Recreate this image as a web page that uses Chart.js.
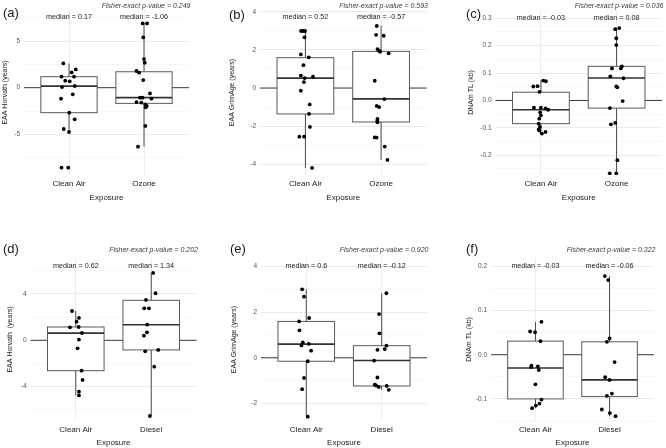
<!DOCTYPE html>
<html>
<head>
<meta charset="utf-8">
<script src="https://cdn.jsdelivr.net/npm/chart.js@4.4.1/dist/chart.umd.min.js"></script>
<style>
  html, body { margin: 0; padding: 0; background: #fff; }
  #wrap { position: relative; width: 666px; height: 448px; overflow: hidden; }
  #wrap canvas { position: absolute; }
</style>
</head>
<body>
<div id="wrap"></div>
<script>
// ---- data ----
const panelTags = ['(a)', '(b)', '(c)', '(d)', '(e)', '(f)'];
const yTitles = ['EAA Horvath (years)', 'EAA GrimAge (years)', 'DNAm TL (kb)',
                 'EAA Horvath  (years)', 'EAA GrimAge (years)', 'DNAm TL (kb)'];
const groups = [['Clean Air', 'Ozone'], ['Clean Air', 'Ozone'], ['Clean Air', 'Ozone'],
                ['Clean Air', 'Diesel'], ['Clean Air', 'Diesel'], ['Clean Air', 'Diesel']];
const pValues = ['0.249', '0.593', '0.036', '0.202', '0.920', '0.322'];
const medianText = [['0.17', '-1.06'], ['0.52', '-0.57'], ['-0.03', '0.08'],
                    ['0.62', '1.34'], ['0.6', '-0.12'], ['-0.03', '-0.06']];
const medianLabelY = [7.55, 3.7, 0.301, 6.44, 4.0, 0.2];

const yMin = [-9.36, -4.56, -0.272, -6.96, -2.76, -0.150];
const yMax = [8.33, 4.09, 0.330, 7.10, 4.36, 0.219];
const majorTicks = [[-5, 0, 5], [-4, -2, 0, 2, 4], [-0.2, -0.1, 0, 0.1, 0.2, 0.3],
                    [-4, 0, 4], [-2, 0, 2, 4], [-0.1, 0, 0.1, 0.2]];
const minorTicks = [[-7.5, -2.5, 2.5, 7.5], [-3, -1, 1, 3], [-0.25, -0.15, -0.05, 0.05, 0.15, 0.25],
                    [-6, -2, 2, 6], [-1, 1, 3], [-0.15, -0.05, 0.05, 0.15]];
const tickDecimals = [0, 0, 1, 0, 0, 1];

// box stats per group: [whisker low, q1, median, q3, whisker high]
const boxes = [
  [[-4.75, -2.68, 0.17, 1.18, 2.6], [-6.32, -1.68, -1.06, 1.71, 6.89]],
  [[-4.19, -1.36, 0.52, 1.59, 2.99], [-3.77, -1.78, -0.57, 1.92, 3.27]],
  [[-0.121, -0.0846, -0.034, 0.030, 0.0726], [-0.262, -0.028, 0.082, 0.1245, 0.264]],
  [[-4.75, -2.62, 0.62, 1.15, 2.53], [-6.53, -0.83, 1.34, 3.45, 5.81]],
  [[-2.57, -0.15, 0.6, 1.59, 2.99], [-1.4, -1.23, -0.12, 0.53, 2.82]],
  [[-0.121, -0.1, -0.03, 0.0308, 0.0744], [-0.139, -0.0947, -0.057, 0.0293, 0.178]]
];

// observations per group and their horizontal jitter (category units)
const values = [
  [[2.6, 1.96, 1.64, 1.18, 1.18, 0.75, 0.68, 0.07, 0.18, -0.71, -1.18, -2.68, -3.39, -4.43, -4.75, -8.57, -8.57],
   [6.89, 6.89, 5.39, 3.07, 2.68, 1.79, 1.61, 0.82, -0.61, -1.07, -1.07, -1.18, -1.54, -1.6, -1.79, -1.96, -2.1, -4.1, -6.32]],
  [[2.99, 2.99, 2.99, 2.66, 1.76, 1.61, 1.2, 0.65, 0.52, 0.59, 0.31, -0.14, -0.86, -1.36, -2.04, -2.55, -2.55, -4.19],
   [3.25, 2.79, 2.74, 2.04, 1.96, 1.9, 1.82, 0.38, -0.58, -0.94, -1.0, -1.62, -1.73, -1.8, -2.59, -2.6, -3.07, -3.77]],
  [[0.0726, 0.070, 0.0508, 0.052, 0.0314, -0.0266, -0.0266, -0.029, -0.0339, -0.0435, -0.0544, -0.0665, -0.0846, -0.0967, -0.106, -0.11, -0.115, -0.121],
   [0.26, 0.264, 0.227, 0.202, 0.117, 0.1245, 0.117, 0.088, 0.081, 0.0508, 0.048, -0.0024, -0.0278, -0.087, -0.082, -0.218, -0.266, -0.266]],
  [[2.53, 1.93, 1.61, 1.12, 1.15, 0.63, 0.06, -0.69, -2.62, -3.42, -4.43, -4.75],
   [5.81, 4.06, 3.48, 2.76, 2.76, 1.35, 0.69, 0.4, -0.95, -0.83, -2.27, -6.53]],
  [[2.99, 2.67, 1.74, 1.59, 1.2, 0.67, 0.54, 0.61, 0.31, -0.15, -0.88, -1.37, -2.57],
   [2.82, 1.91, 1.07, 0.53, 0.35, 0.38, -0.12, -0.86, -1.17, -1.21, -1.27, -1.23, -1.4]],
  [[0.0744, 0.0526, 0.051, 0.0308, -0.0248, -0.028, -0.0263, -0.0346, -0.067, -0.1015, -0.1105, -0.115, -0.121],
   [0.178, 0.169, 0.0368, 0.0293, -0.0165, -0.051, -0.057, -0.093, -0.088, -0.124, -0.132, -0.139]]
];
const jitter = [
  [[-0.076, 0.09, 0.036, -0.1, 0.067, -0.05, 0.01, -0.093, 0.076, 0.05, -0.107, 0.004, 0.076, -0.07, 0, -0.1, -0.01],
   [-0.018, 0.04, -0.01, 0, 0.01, -0.1, -0.065, -0.01, 0.08, -0.053, -0.02, 0.1, -0.1, -0.036, 0.018, 0.036, 0.022, 0.018, -0.08]],
  [[-0.057, -0.03, -0.005, -0.013, -0.06, 0.044, -0.026, -0.06, -0.01, 0.1, -0.02, -0.06, 0.057, 0.048, 0.06, -0.08, -0.017, 0.088],
   [-0.057, -0.066, 0.035, -0.048, -0.03, -0.013, 0.1, -0.084, 0.044, -0.057, -0.026, -0.048, -0.05, -0.048, -0.084, -0.06, 0.048, 0.084]],
  [[0.03, 0.066, -0.1, -0.044, -0.018, -0.092, 0, 0.061, 0.096, -0.009, 0, -0.022, -0.03, -0.013, -0.03, -0.02, 0.061, 0.013],
   [-0.018, 0.035, -0.004, -0.004, -0.061, 0.07, 0.057, -0.083, 0.092, -0.004, 0.01, 0.08, -0.088, -0.075, -0.018, 0.01, -0.09, -0.004]],
  [[-0.05, 0.042, 0.011, -0.077, 0.038, 0.082, 0.042, 0.024, 0.077, 0.09, 0.042, 0.042],
   [0.026, 0.057, -0.07, -0.093, -0.03, -0.053, -0.057, -0.097, -0.08, 0.093, 0.04, -0.018]],
  [[-0.055, -0.03, 0.038, -0.095, -0.09, -0.046, -0.064, 0.033, 0.064, 0.02, -0.03, -0.055, 0.02],
   [0.062, -0.035, -0.03, 0.062, -0.057, 0.04, -0.1, -0.057, -0.093, -0.075, -0.04, 0.066, 0.093]],
  [[0.081, -0.072, -0.005, 0.068, -0.054, -0.059, 0.032, 0.045, 0, 0.081, 0.054, 0.005, -0.045],
   [-0.063, -0.018, 0, -0.036, 0.068, -0.059, 0, -0.036, 0.032, -0.104, 0.005, 0.081]]
];

// ---- layout (page pixels) ----
const layout = [
  { x: 0,   y: 0,   w: 222, h: 224, l: 24,    r: 189,   t: 10,  b: 175, yt: 5,   xt: 198,   tagX: 3,   tagY: 13,  pY: 6 },
  { x: 222, y: 0,   w: 222, h: 224, l: 260,   r: 426.5, t: 10,  b: 175, yt: 232, xt: 198,   tagX: 229, tagY: 15,  pY: 6 },
  { x: 444, y: 0,   w: 222, h: 224, l: 495.5, r: 662,   t: 10,  b: 175, yt: 471, xt: 198,   tagX: 466, tagY: 14,  pY: 6 },
  { x: 0,   y: 224, w: 222, h: 224, l: 30.5,  r: 196.5, t: 258, b: 421, yt: 10,  xt: 442.5, tagX: 3,   tagY: 249, pY: 250 },
  { x: 222, y: 224, w: 222, h: 224, l: 261,   r: 427,   t: 258, b: 421, yt: 234, xt: 442.5, tagX: 230, tagY: 249, pY: 250 },
  { x: 444, y: 224, w: 222, h: 224, l: 491,   r: 654,   t: 258, b: 421, yt: 469, xt: 442.5, tagX: 466, tagY: 249, pY: 250 }
];

const FONT = "'Liberation Sans', Arial, sans-serif";
const BOX_WIDTH = 0.75;

const boxPlugin = {
  id: 'boxPlot',
  beforeDatasetsDraw(chart, args, opts) {
    const i = opts.panel;
    const { ctx, chartArea: a, scales: { x, y } } = chart;
    ctx.save();
    const y0 = y.getPixelForValue(0);
    ctx.strokeStyle = '#3a3a3a';
    ctx.lineWidth = 1;
    ctx.beginPath(); ctx.moveTo(a.left, y0); ctx.lineTo(a.right, y0); ctx.stroke();

    boxes[i].forEach((bx, g) => {
      const cx = x.getPixelForValue(g + 1);
      const x1 = x.getPixelForValue(g + 1 - BOX_WIDTH / 2);
      const x2 = x.getPixelForValue(g + 1 + BOX_WIDTH / 2);
      const [lo, q1, med, q3, hi] = bx.map(v => y.getPixelForValue(v));
      ctx.strokeStyle = '#4a4a4a';
      ctx.lineWidth = 1;
      ctx.beginPath();
      ctx.moveTo(cx, hi); ctx.lineTo(cx, q3);
      ctx.moveTo(cx, q1); ctx.lineTo(cx, lo);
      ctx.stroke();
      ctx.fillStyle = '#fff';
      ctx.fillRect(x1, q3, x2 - x1, q1 - q3);
      ctx.strokeStyle = '#5a5a5a';
      ctx.strokeRect(x1, q3, x2 - x1, q1 - q3);
      ctx.strokeStyle = '#333';
      ctx.lineWidth = 1.6;
      ctx.beginPath(); ctx.moveTo(x1, med); ctx.lineTo(x2, med); ctx.stroke();
    });
    ctx.restore();
  },
  afterDraw(chart, args, opts) {
    const i = opts.panel;
    const L = layout[i];
    const { ctx, chartArea: a, scales: { x, y } } = chart;
    ctx.save();
    ctx.textBaseline = 'middle';

    ctx.fillStyle = '#1a1a1a';
    ctx.textAlign = 'center';
    ctx.font = '7.2px ' + FONT;
    medianText[i].forEach((m, g) => {
      ctx.fillText('median = ' + m, x.getPixelForValue(g + 1), y.getPixelForValue(medianLabelY[i]));
    });

    ctx.fillStyle = '#3a3a3a';
    ctx.textAlign = 'right';
    ctx.font = 'italic 7px ' + FONT;
    ctx.fillText('Fisher-exact p-value = ' + pValues[i], a.right + 1.5, L.pY - L.y);

    ctx.fillStyle = '#1a1a1a';
    ctx.textAlign = 'left';
    ctx.font = '13px ' + FONT;
    ctx.fillText(panelTags[i], L.tagX - L.x, L.tagY - L.y);
    ctx.restore();
  }
};

function fmtTick(i, v) {
  return tickDecimals[i] ? v.toFixed(tickDecimals[i]) : String(v);
}

function buildPanel(i) {
  const L = layout[i];
  const cv = document.createElement('canvas');
  cv.width = L.w; cv.height = L.h;
  cv.style.left = L.x + 'px';
  cv.style.top = L.y + 'px';
  document.getElementById('wrap').appendChild(cv);

  const yTicks = majorTicks[i].concat(minorTicks[i]).sort((p, q) => p - q);
  const isMajor = v => majorTicks[i].includes(v);
  const pts = [];
  for (let g = 0; g < 2; g++) {
    values[i][g].forEach((v, k) => pts.push({ x: g + 1 + jitter[i][g][k], y: v }));
  }

  new Chart(cv, {
    type: 'scatter',
    data: {
      datasets: [{
        data: pts,
        pointRadius: 1.9, pointHoverRadius: 1.9,
        pointBackgroundColor: '#000', pointBorderWidth: 0
      }]
    },
    options: {
      responsive: false, animation: false, events: [],
      layout: { padding: { left: 0, top: L.t - L.y, right: L.x + L.w - L.r, bottom: 0 } },
      plugins: { legend: { display: false }, tooltip: { enabled: false }, boxPlot: { panel: i } },
      scales: {
        x: {
          type: 'linear', min: 0.4, max: 2.6,
          border: { display: false },
          afterBuildTicks: s => { s.ticks = [{ value: 1 }, { value: 2 }]; },
          afterFit: s => { s.height = L.y + L.h - L.b; s.paddingLeft = 0; s.paddingRight = 0; },
          grid: { color: '#e8e8e8', lineWidth: 0.8, drawTicks: false },
          ticks: {
            padding: 4, color: '#1a1a1a', autoSkip: false, maxRotation: 0,
            font: { size: 8, family: FONT },
            callback: v => groups[i][Math.round(v) - 1]
          },
          title: {
            display: true, text: 'Exposure', color: '#1a1a1a',
            font: { size: 8, family: FONT },
            padding: { top: 0, bottom: (L.y + L.h - L.xt) - 4.8 }
          }
        },
        y: {
          type: 'linear', min: yMin[i], max: yMax[i],
          border: { display: false },
          afterBuildTicks: s => { s.ticks = yTicks.map(v => ({ value: v })); },
          afterFit: s => { s.width = L.l - L.x; s.paddingTop = 0; s.paddingBottom = 0; },
          grid: {
            drawTicks: false,
            color: c => isMajor(c.tick.value) ? '#e6e6e6' : '#f2f2f2',
            lineWidth: c => isMajor(c.tick.value) ? 0.8 : 0.6
          },
          ticks: {
            padding: 4, color: '#555', autoSkip: false,
            font: { size: 6.5, family: FONT },
            callback: v => isMajor(v) ? fmtTick(i, v) : ''
          },
          title: {
            display: true, text: yTitles[i], color: '#1a1a1a',
            font: { size: 7, family: FONT },
            padding: { top: (L.yt - L.x) - 4.2, bottom: 0 }
          }
        }
      }
    },
    plugins: [boxPlugin]
  });
}

for (let i = 0; i < 6; i++) buildPanel(i);
</script>
</body>
</html>
